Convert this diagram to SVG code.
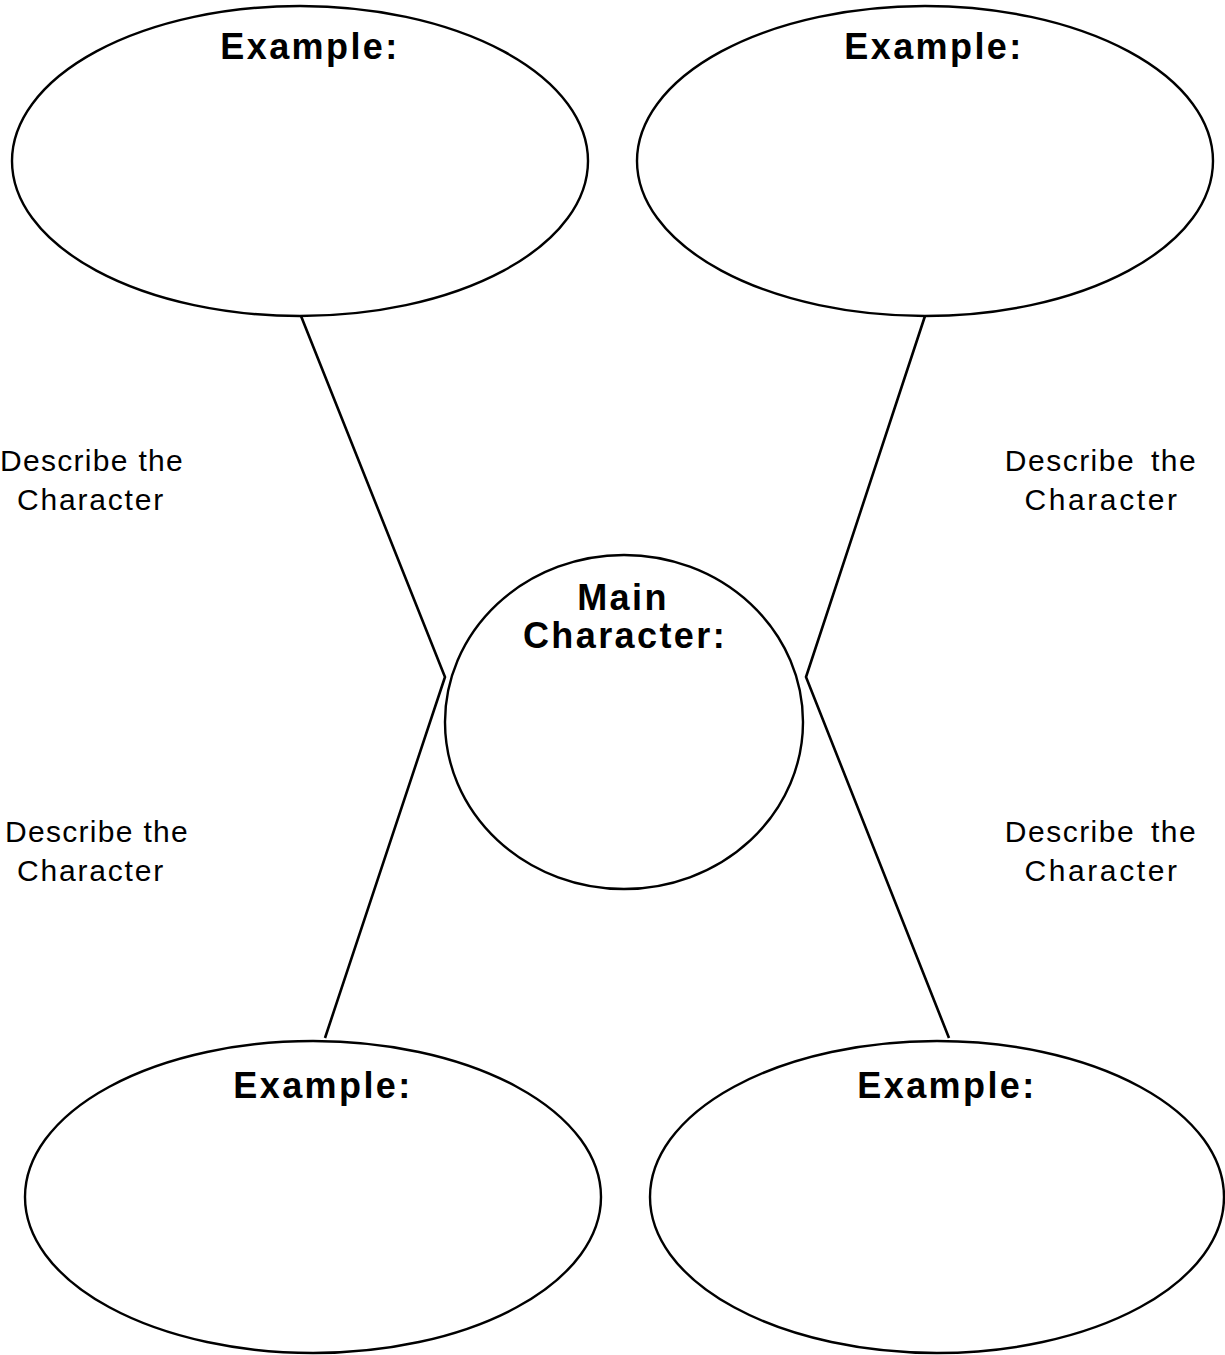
<svg xmlns="http://www.w3.org/2000/svg" width="1225" height="1355" viewBox="0 0 1225 1355">
<style>
.shape{fill:#fff;stroke:#000;stroke-width:2.4}
.conn{fill:none;stroke:#000;stroke-width:2.6;stroke-linejoin:miter}
.title{font-family:"Liberation Sans",Arial,sans-serif;font-weight:bold;font-size:36px;letter-spacing:2.4px;text-anchor:middle;fill:#000}
.desc{font-family:"Liberation Sans",Arial,sans-serif;font-size:30px;letter-spacing:1.3px;text-anchor:middle;fill:#000}
.wide{letter-spacing:1.5px}
.chr{letter-spacing:1.8px}
.chrw{letter-spacing:2.6px}
</style>
<rect width="1225" height="1355" fill="#fff"/>
<g id="connectors">
<polyline class="conn" points="301,316 445,677 325,1038"/>
<polyline class="conn" points="925,316 806,677 949,1038"/>
</g>
<g id="example-top-left">
<ellipse class="shape" cx="300" cy="161" rx="288" ry="155"/>
<text class="title" x="310" y="59">Example:</text>
</g>
<g id="example-top-right">
<ellipse class="shape" cx="925" cy="161" rx="288" ry="155"/>
<text class="title" x="934" y="59">Example:</text>
</g>
<g id="main-character">
<ellipse class="shape" cx="624" cy="722" rx="179" ry="167"/>
<text class="title" x="623" y="610">Main</text>
<text class="title" x="625" y="648">Character:</text>
</g>
<g id="example-bottom-left">
<ellipse class="shape" cx="313" cy="1197" rx="288" ry="156"/>
<text class="title" x="323" y="1098">Example:</text>
</g>
<g id="example-bottom-right">
<ellipse class="shape" cx="937" cy="1197" rx="287" ry="156"/>
<text class="title" x="947" y="1098">Example:</text>
</g>
<g id="label-top-left">
<text class="desc" x="92" y="471">Describe the</text>
<text class="desc chr" x="91" y="510">Character</text>
</g>
<g id="label-top-right">
<text class="desc wide" x="1101" y="471" word-spacing="6">Describe the</text>
<text class="desc chrw" x="1102" y="510">Character</text>
</g>
<g id="label-bottom-left">
<text class="desc" x="97" y="842">Describe the</text>
<text class="desc chr" x="91" y="881">Character</text>
</g>
<g id="label-bottom-right">
<text class="desc wide" x="1101" y="842" word-spacing="6">Describe the</text>
<text class="desc chrw" x="1102" y="881">Character</text>
</g>
</svg>
